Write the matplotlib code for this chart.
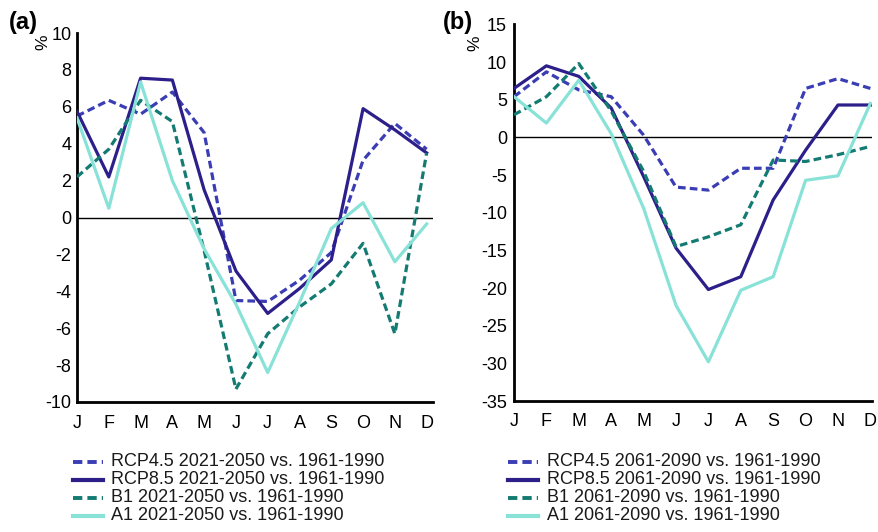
import matplotlib
matplotlib.use("Agg")
import matplotlib.pyplot as plt
from matplotlib.lines import Line2D

plt.rcParams['font.family'] = ['Liberation Sans', 'DejaVu Sans']

months = ["J", "F", "M", "A", "M", "J", "J", "A", "S", "O", "N", "D"]

# Panel (a): 2021-2050 vs. 1961-1990
rcp45_a = [5.5, 6.35, 5.6, 6.8, 4.6, -4.5, -4.55, -3.4, -1.9, 3.1, 5.1, 3.7]
rcp85_a = [5.75, 2.2, 7.55, 7.45, 1.5, -2.9, -5.2, -3.85, -2.3, 5.9, 4.75, 3.5]
b1_a = [2.2, 3.7, 6.35, 5.2, -1.8, -9.3, -6.3, -4.85, -3.6, -1.4, -6.3, 3.5]
a1_a = [5.4, 0.5, 7.35, 2.0, -1.7, -4.7, -8.4, -4.6, -0.6, 0.8, -2.4, -0.35]

# Panel (b): 2061-2090 vs. 1961-1990
rcp45_b = [5.4, 8.7, 6.3, 5.4, 0.3, -6.6, -7.0, -4.1, -4.1, 6.5, 7.8, 6.5]
rcp85_b = [6.5, 9.5, 8.1, 3.9, -5.2, -14.7, -20.2, -18.5, -8.3, -1.7, 4.3, 4.3]
b1_b = [3.0, 5.4, 9.8, 3.5, -4.5, -14.5, -13.2, -11.6, -3.0, -3.2, -2.3, -1.2]
a1_b = [5.4, 1.9, 7.6, 0.5, -9.4, -22.3, -29.8, -20.3, -18.5, -5.7, -5.1, 4.5]

labels_a = ["RCP4.5 2021-2050 vs. 1961-1990", "RCP8.5 2021-2050 vs. 1961-1990",
            "B1 2021-2050 vs. 1961-1990", "A1 2021-2050 vs. 1961-1990"]
labels_b = ["RCP4.5 2061-2090 vs. 1961-1990", "RCP8.5 2061-2090 vs. 1961-1990",
            "B1 2061-2090 vs. 1961-1990", "A1 2061-2090 vs. 1961-1990"]

yticks_a = [10, 8, 6, 4, 2, 0, -2, -4, -6, -8, -10]
yticks_b = [15, 10, 5, 0, -5, -10, -15, -20, -25, -30, -35]

c45 = "#3a3db3"
c85 = "#2c1f8a"
cb1 = "#137b72"
ca1 = "#88e2d7"
dash = (0, (2.4, 1.3))
LW = 2.3

styles = [(c45, dash), (c85, "-"), (cb1, dash), (ca1, "-")]

fig = plt.figure(figsize=(8.79, 5.32), dpi=100)
W, H = 879.0, 532.0

def make_ax(left_px, right_px, top_px, bottom_px):
    return fig.add_axes([left_px / W, 1 - bottom_px / H,
                         (right_px - left_px) / W, (bottom_px - top_px) / H])

ax_a = make_ax(77, 433, 33, 402)
ax_b = make_ax(514, 872, 24.4, 401)

def draw(ax, series, yticks, xmax, ypad):
    x = list(range(len(months)))
    order = [3, 1, 2, 0]
    for i in order:
        col, ls = styles[i]
        ax.plot(x, series[i], color=col, linestyle=ls, lw=LW, zorder=3 + i * 0.1)
    ax.axhline(0, color="black", lw=1.0, zorder=2)
    ax.set_xlim(0, xmax)
    ax.set_ylim(min(yticks), max(yticks))
    ax.set_yticks(yticks)
    ax.set_yticklabels([str(v) for v in yticks])
    ax.set_xticks(x)
    ax.set_xticklabels(months)
    ax.tick_params(axis="both", length=0, labelsize=13)
    ax.tick_params(axis="x", pad=9)
    ax.tick_params(axis="y", pad=ypad)
    for s in ["top", "right"]:
        ax.spines[s].set_visible(False)
    for s in ["left", "bottom"]:
        ax.spines[s].set_linewidth(2.0)
        ax.spines[s].set_color("black")

draw(ax_a, [rcp45_a, rcp85_a, b1_a, a1_a], yticks_a, 11.2, 4)
draw(ax_b, [rcp45_b, rcp85_b, b1_b, a1_b], yticks_b, 11.05, 5)

# panel labels and % units
fig.text(23 / W, 1 - 23 / H, "(a)", fontsize=17, fontweight="bold", ha="center", va="center")
fig.text(458 / W, 1 - 22 / H, "(b)", fontsize=17, fontweight="bold", ha="center", va="center")
fig.text(43 / W, 1 - 42 / H, "%", fontsize=12.5, rotation=90, ha="center", va="center")
fig.text(475 / W, 1 - 43 / H, "%", fontsize=12.5, rotation=90, ha="center", va="center")

# manual legends
rows_y = [462, 480, 498, 516]
def legend(x0, x1, xt, labels):
    for (col, ls), lab, yy in zip(styles, labels, rows_y):
        fy = 1 - yy / H
        fig.add_artist(Line2D([x0 / W, x1 / W], [fy, fy], color=col, linestyle=ls,
                              lw=3.0 if ls == "-" else 2.8, transform=fig.transFigure))
        fig.text(xt / W, fy, lab, fontsize=13, ha="left", va="center", color="#1a1a1a")

legend(73, 103, 111, labels_a)
legend(508, 538, 547, labels_b)

fig.savefig("out.png", dpi=100)
